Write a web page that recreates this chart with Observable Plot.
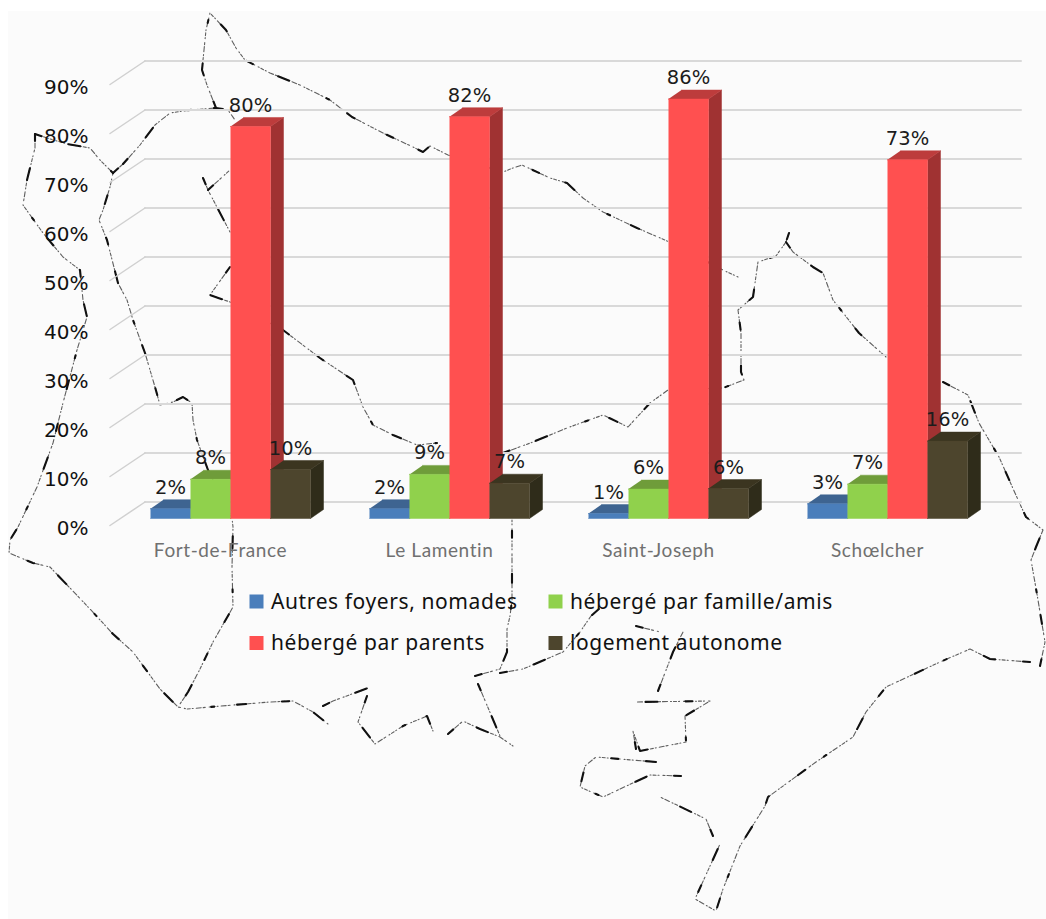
<!DOCTYPE html>
<html lang="fr">
<head>
<meta charset="utf-8">
<script src="https://cdn.jsdelivr.net/npm/d3@7"></script>
<script src="https://cdn.jsdelivr.net/npm/@observablehq/plot@0.6"></script>
<style>
  html, body { margin: 0; padding: 0; width: 1046px; height: 919px; overflow: hidden; background: #fff; }
  #panel { position: absolute; left: 8px; top: 11px; right: 0; bottom: 0; background: #fbfbfb; }
  #chart { position: absolute; left: 0; top: 0; }
  #chart svg { display: block; background: transparent; }
</style>
</head>
<body>
<div id="panel"></div>
<div id="chart"></div>
<script>
const communes = ["Fort-de-France", "Le Lamentin", "Saint-Joseph", "Schœlcher"];
const seriesNames = ["Autres foyers, nomades", "hébergé par famille/amis", "hébergé par parents", "logement autonome"];
const autresFoyers = [2, 2, 1, 3];
const familleAmis = [8, 9, 6, 7];
const parents = [80, 82, 85.6, 73.2];
const logementAutonome = [10, 7.2, 6.1, 15.8];
const yTicks = [0, 10, 20, 30, 40, 50, 60, 70, 80, 90];
const frontColors = ["#4a7ebb", "#90d14c", "#ff5050", "#4d452d"];
const topColors = ["#3e6491", "#6f9c3a", "#bd3c3c", "#3b3520"];
const sideColors = ["#375880", "#628a33", "#a03232", "#2f2c1a"];

// Background map: hand-traced outline, picture coordinates of the reference.
const mapOutline = [
  [[35,134],[47,138],[67,144],[90,148],[100,160],[113,173],[110,187],[103,210],[99,220],[107,240],[118,283],[127,300],[133,320],[145,353],[155,387],[160,405],[173,402],[183,397],[192,403],[193,420],[197,440],[208,470],[232,518],[233,527],[232,567],[233,607],[213,642],[200,669],[188,692],[178,707]],
  [[35,134],[35,148],[27,180],[23,205],[43,233],[63,257],[80,270],[83,300],[87,317],[77,350],[63,403],[53,443],[37,487],[18,527],[10,540],[9,553],[33,563],[50,567],[90,609],[113,634],[133,652],[160,689],[178,707],[187,709],[233,705],[270,702],[293,701],[313,712],[328,724]],
  [[323,706],[333,701],[368,688]],
  [[367,696],[358,722],[375,744],[403,726],[427,716],[433,731]],
  [[448,734],[463,721],[480,729],[500,737],[513,746]],
  [[478,684],[500,736]],
  [[475,676],[500,669],[507,652],[507,629],[510,616],[512,600],[512,567],[512,520]],
  [[500,673],[523,669],[563,652],[580,632],[591,616],[600,608]],
  [[123,164],[140,145],[155,125],[170,113],[190,110],[216,108],[228,110],[235,120]],
  [[113,173],[123,164]],
  [[216,108],[207,85],[202,70],[204,50],[206,30],[210,13],[226,30],[236,48],[245,60],[270,73],[300,85],[330,100],[352,117],[383,133],[413,147],[423,152],[430,146],[448,155],[503,172],[513,168],[522,165],[550,178],[567,183],[583,198],[603,212],[637,228],[665,240],[723,270],[738,277]],
  [[203,178],[208,190],[230,232]],
  [[208,190],[230,170]],
  [[230,267],[210,295],[230,302],[283,330],[320,358],[353,380],[363,407],[373,425],[393,435],[417,445],[437,443]],
  [[503,453],[533,442],[567,428],[603,415],[628,427],[650,403],[668,390],[723,388],[744,380],[741,372],[741,333],[738,310],[753,297],[758,262],[776,256],[786,242],[789,233]],
  [[786,242],[793,252],[813,267],[823,273],[833,300],[859,333],[886,357]],
  [[943,382],[968,395],[979,423],[999,457],[1019,502],[1026,517],[1043,530],[1036,547],[1031,560],[1038,600],[1045,642],[1040,666]],
  [[1030,662],[990,659],[970,649],[940,662],[886,687],[866,712],[853,737],[816,762],[768,797],[765,806],[740,846],[723,889],[716,911],[695,899],[720,844]],
  [[713,836],[706,819],[660,797]],
  [[681,776],[650,775],[603,797],[580,787],[585,766],[596,757],[656,762]],
  [[636,749],[633,731],[640,751],[686,742],[685,716],[710,701],[636,702]],
  [[658,691],[673,652],[683,632]],
  [[636,626],[660,632]]
];

const values = [autresFoyers, familleAmis, parents, logementAutonome];

// Oblique chart units: one x unit is one bar's width, y is in percent.
const groupStep = 5.475, depthX = 0.325, depthY = 1.84;
const unitX = px => (px - 150.5) / 40;
const unitY = py => (518.5 - py) / 4.9;

const faces = [];
communes.forEach((commune, g) => {
  seriesNames.forEach((name, s) => {
    const v = values[s][g], a = g * groupStep + s, b = a + 1;
    const push = (kind, color, pts) => pts.forEach(([x, y]) => faces.push({id: `${g}-${s}-${kind}`, color, x, y}));
    push("side", sideColors[s], [[b, 0], [b + depthX, depthY], [b + depthX, v + depthY], [b, v]]);
    push("top", topColors[s], [[a, v], [b, v], [b + depthX, v + depthY], [a + depthX, v + depthY]]);
    push("front", frontColors[s], [[a, 0], [b, 0], [b, v], [a, v]]);
  });
});

const labels = communes.flatMap((commune, g) =>
  seriesNames.map((name, s) => ({x: g * groupStep + s + 0.5, y: values[s][g], text: Math.round(values[s][g]) + "%"})));

const wallBack = yTicks.flatMap(t => [
  {t, x: unitX(145), y: t + 16.5 / 4.9},
  {t, x: unitX(1021), y: t + 16.5 / 4.9}
]);
const wallSide = yTicks.flatMap(t => [
  {t, x: unitX(110), y: t - 7 / 4.9},
  {t, x: unitX(145), y: t + 16.5 / 4.9}
]);

const mapPoints = mapOutline.flatMap((path, i) => path.map(([px, py]) => ({i, x: unitX(px), y: unitY(py)})));

const categories = communes.map((name, g) => ({name, x: g * groupStep + 2 - 0.25, y: unitY(557)}));

const legendSpots = [
  {sx: 250, tx: 271, cy: 602}, {sx: 549, tx: 570, cy: 602},
  {sx: 250, tx: 271, cy: 643.5}, {sx: 549, tx: 570, cy: 643.5}
];
const legend = seriesNames.map((name, s) => ({
  name, color: frontColors[s],
  x1: unitX(legendSpots[s].sx), x2: unitX(legendSpots[s].sx + 14),
  y1: unitY(legendSpots[s].cy - 7), y2: unitY(legendSpots[s].cy + 7),
  tx: unitX(legendSpots[s].tx), ty: unitY(legendSpots[s].cy)
}));

const chart = Plot.plot({
  width: 1046,
  height: 919,
  marginLeft: 88, marginRight: 0, marginTop: 0, marginBottom: 0,
  x: {domain: [0, 22], range: [150, 1030], axis: null},
  y: {domain: [0, 100], range: [518, 28]},
  color: {type: "identity"},
  style: {background: "transparent", overflow: "visible"},
  marks: [
    Plot.line(mapPoints, {x: "x", y: "y", z: "i", stroke: "#2a2a2a", strokeWidth: 1.1, strokeOpacity: 0.75, strokeDasharray: "3 2 1 3 5 2 2 4 1 2", curve: "linear"}),
    Plot.line(mapPoints, {x: "x", y: "y", z: "i", stroke: "#111", strokeWidth: 2.1, strokeDasharray: "7 28 12 41 3 23 9 36", curve: "linear"}),
    Plot.line(wallBack, {x: "x", y: "y", z: "t", stroke: "#d9d9d9", strokeWidth: 2}),
    Plot.line(wallSide, {x: "x", y: "y", z: "t", stroke: "#d0d0d0", strokeWidth: 1.5}),
    Plot.axisY({
      anchor: "left", ticks: yTicks, tickSize: 0, tickPadding: 0, dy: 10, label: null,
      tickFormat: d => d + "%", fontSize: 20, fontFamily: "DejaVu Sans", fill: "#111"
    }),
    Plot.line(faces, {x: "x", y: "y", z: "id", fill: "color", stroke: "color", strokeWidth: 0.5}),
    Plot.text(labels, {x: "x", y: "y", text: "text", dy: -15, lineAnchor: "bottom", fontSize: 19.5, fontFamily: "DejaVu Sans", fill: "#1c1c1c"}),
    Plot.text(categories, {x: "x", y: "y", text: "name", lineAnchor: "bottom", fontSize: 19, fontFamily: "Lato", fill: "#707070"}),
    Plot.rect(legend, {x1: "x1", x2: "x2", y1: "y1", y2: "y2", fill: "color"}),
    Plot.text(legend, {x: "tx", y: "ty", text: "name", textAnchor: "start", lineAnchor: "middle", fontSize: 21, fontFamily: "Noto Sans", fill: "#111"})
  ]
});
d3.select(chart).selectAll("text").each(function() {
  const label = this.textContent;
  if (communes.includes(label) || seriesNames.includes(label)) this.style.letterSpacing = "0.6px";
});
document.getElementById("chart").appendChild(chart);
</script>
</body>
</html>
